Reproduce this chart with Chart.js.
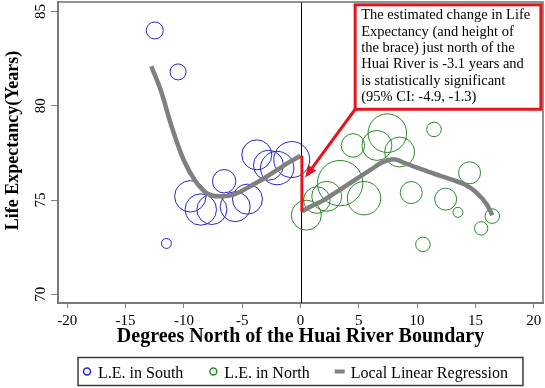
<!DOCTYPE html>
<html>
<head>
<meta charset="utf-8">
<script src="https://cdn.jsdelivr.net/npm/chart.js@4.4.0/dist/chart.umd.min.js"></script>
<style>
  html, body { margin: 0; padding: 0; background: #fff; }
  #wrap { width: 545px; height: 388px; }
</style>
</head>
<body>
<div id="wrap"><canvas id="huaiChart" width="545" height="388"></canvas></div>
<script>
// cities south of the river: degrees north, life expectancy, population weight
const southX = [-12.5, -10.5, -11.5, -9.45, -8.55, -7.6, -6.55, -5.6, -4.55, -3.75, -2.75, -2.0, -0.75];
const southY = [84.0, 81.8, 72.7, 75.2, 74.5, 74.5, 76.0, 74.65, 75.05, 77.4, 76.85, 76.7, 77.15];
const southWeight = [4.25, 4, 2.5, 7.85, 7.85, 7.5, 5.85, 7.5, 7.5, 7.5, 7.5, 8.35, 9];

// cities north of the river
const northX = [0.5, 1.4, 2.25, 3.4, 5.45, 4.5, 6.55, 7.45, 8.5, 11.45, 9.5, 12.45, 14.5, 13.5, 16.45, 15.5, 10.5];
const northY = [74.2, 75.0, 75.2, 75.9, 75.1, 77.9, 77.9, 78.55, 77.55, 78.75, 75.4, 75.05, 76.45, 74.35, 74.15, 73.5, 72.65];
const northWeight = [7.5, 6.65, 7.5, 11.35, 8.35, 5.85, 7.5, 9.65, 7.5, 3.65, 5.5, 5.5, 5.5, 2.5, 3.65, 3.35, 3.65];

// local linear regression fits, each side of the boundary
const fitSouthX = [-12.8, -12, -11, -10, -9, -8, -7, -6, -5, -4, -3, -2, -1, 0];
const fitSouthY = [82.1, 80.85, 78.8, 77.1, 76.0, 75.35, 75.2, 75.25, 75.5, 75.85, 76.2, 76.6, 77.0, 77.35];
const fitNorthX = [0.12, 1, 2, 3, 4, 5, 6, 7, 8, 9, 10, 11, 12, 13, 14, 15, 16, 16.45];
const fitNorthY = [74.4, 74.7, 75.0, 75.4, 75.8, 76.2, 76.6, 77.0, 77.17, 76.95, 76.72, 76.5, 76.28, 76.08, 75.85, 75.45, 74.75, 74.2];

// the brace: jump at the boundary
const braceX = [0.12, 0.12];
const braceY = [77.35, 74.4];

const xTicks = [-20, -15, -10, -5, 0, 5, 10, 15, 20];
const yTicks = [70, 75, 80, 85];

const noteLines = [
  'The estimated change in Life',
  'Expectancy (and height of',
  'the brace) just north of the',
  'Huai River is -3.1 years and',
  'is statistically significant',
  '(95% CI: -4.9, -1.3)'
];
// note box corners and arrow tip, in data units
const noteLeft = 4.69, noteRight = 20.62, noteTop = 85.36, noteBottom = 79.82;
const arrowTipX = 0.4, arrowTipY = 76.2;

const BLUE = '#2424c8';
const GREEN = '#2a8a2a';
const GREY = '#808080';
const RED = '#e4141b';
const SERIF = '"Liberation Serif", "Times New Roman", serif';

const toPoints = (xs, ys) => xs.map((x, i) => ({ x: x, y: ys[i] }));
const toBubbles = (xs, ys, ws) => xs.map((x, i) => ({ x: x, y: ys[i], r: ws[i] * 2 }));

const legendItems = [
  { text: 'L.E. in South', kind: 'circle', color: BLUE },
  { text: 'L.E. in North', kind: 'circle', color: GREEN },
  { text: 'Local Linear Regression', kind: 'line', color: GREY }
];

const extras = {
  id: 'extras',
  beforeDatasetsDraw(chart) {
    const { ctx, chartArea: a, scales: { x } } = chart;
    const x0 = Math.round(x.getPixelForValue(0)) + 0.5;
    ctx.save();
    ctx.strokeStyle = '#000';
    ctx.lineWidth = 1;
    ctx.beginPath();
    ctx.moveTo(x0, a.top);
    ctx.lineTo(x0, a.bottom);
    ctx.stroke();
    ctx.restore();
  },
  afterDraw(chart) {
    const { ctx, chartArea: a, scales: { x, y } } = chart;
    ctx.save();

    // top and right side of the frame
    ctx.strokeStyle = '#6f6f6f';
    ctx.lineWidth = 1.5;
    ctx.beginPath();
    ctx.moveTo(a.left, a.top);
    ctx.lineTo(a.right, a.top);
    ctx.lineTo(a.right, a.bottom);
    ctx.stroke();

    // note box
    const bl = x.getPixelForValue(noteLeft), br = x.getPixelForValue(noteRight);
    const bt = y.getPixelForValue(noteTop), bb = y.getPixelForValue(noteBottom);
    ctx.fillStyle = '#fff';
    ctx.fillRect(bl, bt, br - bl, bb - bt);
    ctx.strokeStyle = RED;
    ctx.lineWidth = 3;
    ctx.strokeRect(bl, bt, br - bl, bb - bt);
    ctx.fillStyle = '#000';
    ctx.font = '14.5px ' + SERIF;
    ctx.textBaseline = 'alphabetic';
    ctx.textAlign = 'left';
    noteLines.forEach((t, i) => ctx.fillText(t, bl + 6, bt + 14.5 + i * 16.3));

    // arrow from the box corner to the brace
    const tx = x.getPixelForValue(arrowTipX), ty = y.getPixelForValue(arrowTipY);
    const ang = Math.atan2(ty - bb, tx - bl);
    const headLen = 12, headW = 5;
    ctx.strokeStyle = RED;
    ctx.lineWidth = 3;
    ctx.beginPath();
    ctx.moveTo(bl, bb);
    ctx.lineTo(tx - Math.cos(ang) * (headLen - 2), ty - Math.sin(ang) * (headLen - 2));
    ctx.stroke();
    ctx.fillStyle = RED;
    ctx.beginPath();
    ctx.moveTo(tx, ty);
    ctx.lineTo(tx - Math.cos(ang) * headLen - Math.sin(ang) * headW, ty - Math.sin(ang) * headLen + Math.cos(ang) * headW);
    ctx.lineTo(tx - Math.cos(ang) * headLen + Math.sin(ang) * headW, ty - Math.sin(ang) * headLen - Math.cos(ang) * headW);
    ctx.closePath();
    ctx.fill();

    // y title
    ctx.fillStyle = '#000';
    ctx.font = 'bold 18px ' + SERIF;
    ctx.textAlign = 'center';
    ctx.translate(17.5, (a.top + a.bottom) / 2 - 12);
    ctx.rotate(-Math.PI / 2);
    ctx.fillText('Life Expectancy(Years)', 0, 0);
    ctx.setTransform(1, 0, 0, 1, 0, 0);

    // legend
    ctx.font = '16px ' + SERIF;
    ctx.textAlign = 'left';
    const widths = legendItems.map(it => ctx.measureText(it.text).width);
    const gap = 25;
    const content = widths.reduce((s, w) => s + 16 + w, 0) + gap * (legendItems.length - 1);
    const boxW = content + 19;
    const bx = (a.left + a.right) / 2 - boxW / 2;
    const by = chart.height - 30.5;
    const bh = 28;
    ctx.strokeStyle = '#3a3a3a';
    ctx.lineWidth = 1.5;
    ctx.strokeRect(bx, by, boxW, bh);
    const cy = by + bh / 2;
    let cur = bx + 4;
    legendItems.forEach((it, i) => {
      const mx = cur + 5;
      if (it.kind === 'circle') {
        ctx.strokeStyle = it.color;
        ctx.lineWidth = 1.5;
        ctx.beginPath();
        ctx.arc(mx, cy, 3.5, 0, Math.PI * 2);
        ctx.stroke();
      } else {
        ctx.fillStyle = it.color;
        ctx.fillRect(mx - 5, cy - 2, 10, 4);
      }
      ctx.fillStyle = '#000';
      ctx.fillText(it.text, cur + 16, cy + 6.5);
      cur += 16 + widths[i] + gap;
    });

    ctx.restore();
  }
};

new Chart(document.getElementById('huaiChart'), {
  type: 'bubble',
  data: {
    datasets: [
      {
        type: 'line',
        label: 'brace',
        data: toPoints(braceX, braceY),
        borderColor: RED,
        borderWidth: 3,
        pointRadius: 0,
        order: 1
      },
      {
        type: 'line',
        label: 'Local Linear Regression',
        data: toPoints(fitSouthX, fitSouthY),
        borderColor: GREY,
        borderWidth: 4.5,
        pointRadius: 0,
        cubicInterpolationMode: 'monotone',
        order: 2
      },
      {
        type: 'line',
        label: 'Local Linear Regression (north)',
        data: toPoints(fitNorthX, fitNorthY),
        borderColor: GREY,
        borderWidth: 4.5,
        pointRadius: 0,
        cubicInterpolationMode: 'monotone',
        order: 2
      },
      {
        label: 'L.E. in South',
        data: toBubbles(southX, southY, southWeight),
        borderColor: BLUE,
        backgroundColor: 'rgba(0,0,0,0)',
        borderWidth: 1,
        order: 3
      },
      {
        label: 'L.E. in North',
        data: toBubbles(northX, northY, northWeight),
        borderColor: GREEN,
        backgroundColor: 'rgba(0,0,0,0)',
        borderWidth: 1,
        order: 3
      }
    ]
  },
  options: {
    responsive: false,
    animation: false,
    events: [],
    layout: { autoPadding: false, padding: { top: 2, right: 2, left: 0, bottom: 36 } },
    plugins: {
      legend: { display: false },
      tooltip: { enabled: false }
    },
    scales: {
      x: {
        type: 'linear',
        min: -20.8,
        max: 20.8,
        afterBuildTicks: (s) => { s.ticks = xTicks.map(v => ({ value: v })); },
        afterFit: (s) => { s.height = 49; s.paddingLeft = 0; s.paddingRight = 0; },
        grid: { drawOnChartArea: false, drawTicks: true, tickLength: 5, color: GREY, lineWidth: 1 },
        border: { display: true, color: '#7a7a7a', width: 2 },
        ticks: { color: '#000', padding: 4, maxRotation: 0, font: { family: SERIF, size: 15 } },
        title: {
          display: true,
          text: 'Degrees North of the Huai River Boundary',
          color: '#000',
          padding: { top: 0, bottom: 3 },
          font: { family: SERIF, size: 20, weight: 'bold' }
        }
      },
      y: {
        type: 'linear',
        min: 69.54,
        max: 85.51,
        afterBuildTicks: (s) => { s.ticks = yTicks.map(v => ({ value: v })); },
        afterFit: (s) => { s.width = 58; s.paddingTop = 0; s.paddingBottom = 0; },
        grid: { drawOnChartArea: false, drawTicks: true, tickLength: 7, color: GREY, lineWidth: 1 },
        border: { display: true, color: '#7a7a7a', width: 2 },
        ticks: { color: '#000', padding: 2, minRotation: 90, maxRotation: 90, crossAlign: 'center', font: { family: SERIF, size: 15 } }
      }
    }
  },
  plugins: [extras]
});
</script>
</body>
</html>
